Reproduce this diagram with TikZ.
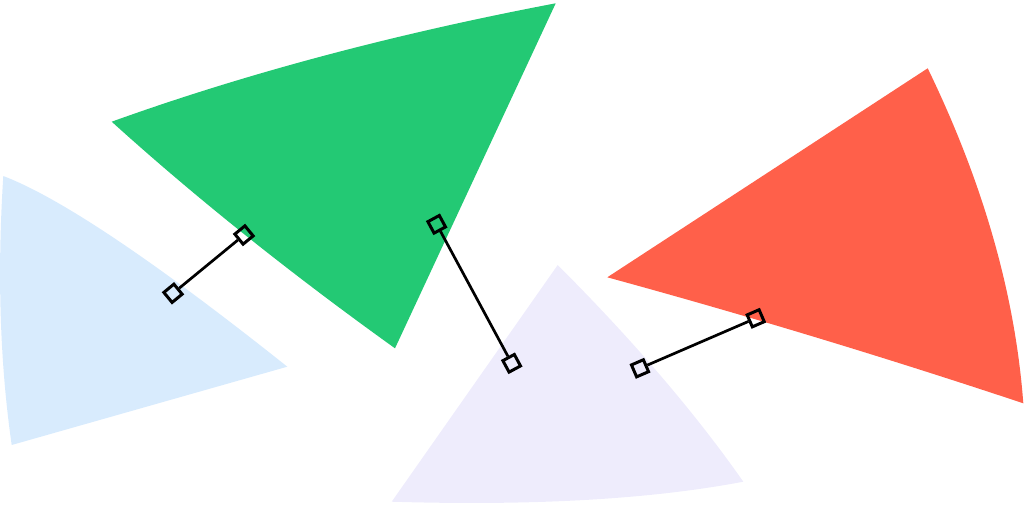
\documentclass[tikz,border=0pt]{standalone}
\definecolor{skyfill}{HTML}{D8EBFD}
\definecolor{leaf}{HTML}{23C974}
\definecolor{lilac}{HTML}{EEECFC}
\definecolor{coral}{HTML}{FF604A}
\begin{document}
\begin{tikzpicture}[x=1pt,y=-1pt,
  marker/.style={draw=black, line width=3pt, rectangle, minimum size=13pt, inner sep=0pt},
  link/.style={draw=black, line width=2.7pt}]
\useasboundingbox (0,0) rectangle (1024,508);
% blue
\fill[skyfill] (3.3,176) .. controls (60.5,197.9) and (155.1,261.5) .. (287.3,366.7)
  -- (11.7,445) .. controls (-0.1,363) and (-2.9,273.3) .. cycle;
% green
\fill[leaf] (111.7,121.7) .. controls (245.1,73.7) and (393.1,34.2) .. (555.7,3.3)
  -- (395,348.3) .. controls (289.7,272.8) and (195.2,197.2) .. cycle;
% lavender
\fill[lilac] (557.7,265) -- (391.7,501.7) .. controls (533.4,506) and (650.6,499.3) .. (743.3,481.7)
  .. controls (695.1,412.8) and (633.2,340.5) .. cycle;
% red
\fill[coral] (607.3,277.3) -- (927.7,68.3) .. controls (983.2,182.8) and (1015.1,294.4) .. (1023.3,403.3)
  .. controls (885.8,357.5) and (747.1,315.5) .. cycle;
% markers
\node[marker, rotate=39.4] (m1) at (173,293.3) {};
\node[marker, rotate=39.4] (m2) at (244,235) {};
\node[marker, rotate=-61.6] (m3) at (436.7,224.3) {};
\node[marker, rotate=-61.6] (m4) at (511.7,363.3) {};
\node[marker, rotate=23.4] (m5) at (640,368.3) {};
\node[marker, rotate=23.4] (m6) at (755.7,318.3) {};
\draw[link] (m1) -- (m2);
\draw[link] (m3) -- (m4);
\draw[link] (m5) -- (m6);
\end{tikzpicture}
\end{document}
